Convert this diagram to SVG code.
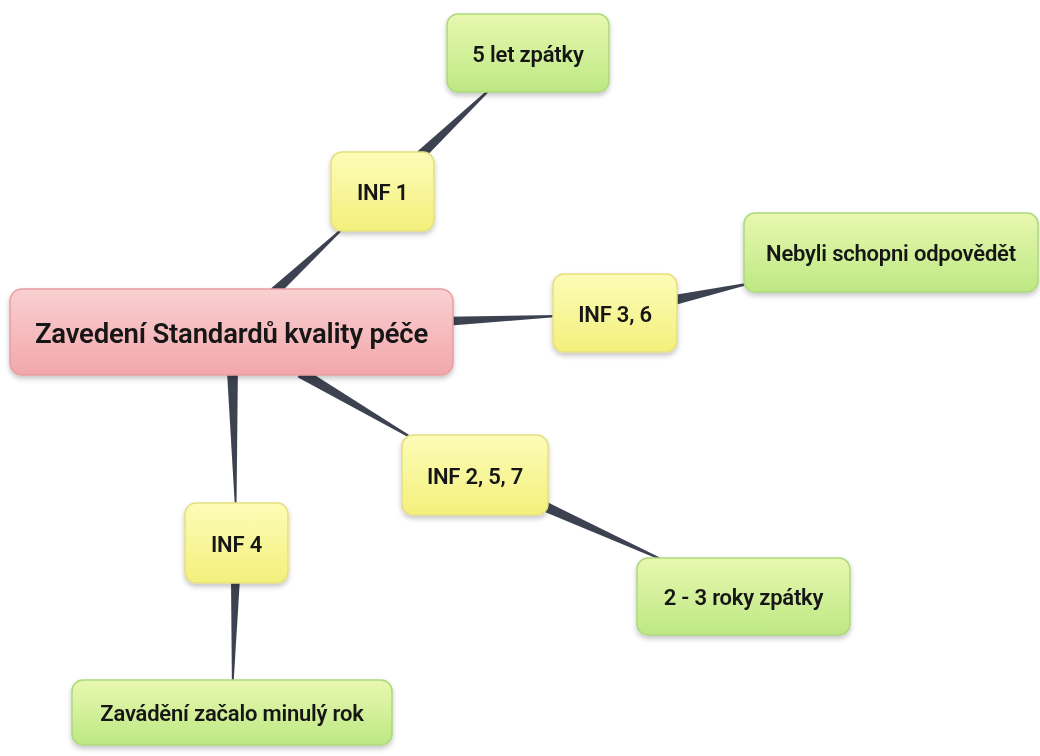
<svg xmlns="http://www.w3.org/2000/svg" width="1040" height="756" viewBox="0 0 1040 756">
<defs>
<linearGradient id="gPink" x1="0" y1="0" x2="0" y2="1"><stop offset="0" stop-color="#f9d0d1"/><stop offset="1" stop-color="#f2a7ab"/></linearGradient>
<linearGradient id="gYel" x1="0" y1="0" x2="0" y2="1"><stop offset="0" stop-color="#fcfcb8"/><stop offset="1" stop-color="#f4f07c"/></linearGradient>
<linearGradient id="gGrn" x1="0" y1="0" x2="0" y2="1"><stop offset="0" stop-color="#e8f8b0"/><stop offset="1" stop-color="#bde883"/></linearGradient>
<filter id="sh" x="-10%" y="-10%" width="120%" height="130%"><feDropShadow dx="0" dy="3" stdDeviation="2.5" flood-color="#000" flood-opacity="0.22"/></filter>
<style>
.pink{fill:url(#gPink);stroke:#e89da1;stroke-width:1.5}
.yel{fill:url(#gYel);stroke:#e3df80;stroke-width:1.5}
.grn{fill:url(#gGrn);stroke:#acd97c;stroke-width:1.5}
.box{filter:url(#sh)}
.t{font-family:Roboto,"Liberation Sans",sans-serif;font-weight:600;fill:#141414;text-anchor:middle;dominant-baseline:central;letter-spacing:-0.2px}
.s{font-size:22px}
.c{fill:#3c4250}
</style>
</defs>
<rect width="1040" height="756" fill="#ffffff"/>
<g id="connectors">
<polygon class="c" points="277.4,296.1 270.6,288.7 341.7,228.1 343.1,229.5"/>
<polygon class="c" points="423.8,159.0 417.0,151.8 489.2,88.5 490.6,89.9"/>
<polygon class="c" points="448.2,325.8 447.8,316.8 556.95,314.9 557.05,316.9"/>
<polygon class="c" points="673.2,305.4 671.0,295.6 747.7,282.8 748.1,284.8"/>
<polygon class="c" points="297.6,377.2 303.2,367.8 410.8,436.1 409.8,437.9"/>
<polygon class="c" points="541.3,510.5 545.5,501.3 662.4,558.7 661.6,560.5"/>
<polygon class="c" points="226.9,370.1 237.9,369.9 236.5,507 234.9,507"/>
<polygon class="c" points="231.0,578 240.0,578 233.5,684 231.9,684"/>
</g>
<g id="n-central" class="box"><rect class="pink" x="10" y="289" width="443" height="86" rx="12"/><text class="t" x="231.5" y="333" font-size="27.5">Zavedení Standardů kvality péče</text></g>
<g id="n-inf1" class="box"><rect class="yel" x="331" y="152" width="103" height="79" rx="11"/><text class="t s" x="382.5" y="192">INF 1</text></g>
<g id="n-5let" class="box"><rect class="grn" x="447" y="14" width="162" height="78" rx="11"/><text class="t s" x="528" y="54">5 let zpátky</text></g>
<g id="n-inf36" class="box"><rect class="yel" x="553" y="274" width="124" height="78" rx="11"/><text class="t s" x="615" y="314">INF 3, 6</text></g>
<g id="n-nebyli" class="box"><rect class="grn" x="744" y="213" width="294" height="79" rx="11"/><text class="t s" x="891" y="253">Nebyli schopni odpovědět</text></g>
<g id="n-inf257" class="box"><rect class="yel" x="402" y="435" width="146" height="80" rx="11"/><text class="t s" x="475" y="476">INF 2, 5, 7</text></g>
<g id="n-23roky" class="box"><rect class="grn" x="637" y="558" width="213" height="77" rx="11"/><text class="t s" x="743.5" y="597">2 - 3 roky zpátky</text></g>
<g id="n-inf4" class="box"><rect class="yel" x="185" y="503" width="103" height="80" rx="11"/><text class="t s" x="236.5" y="544">INF 4</text></g>
<g id="n-zavadeni" class="box"><rect class="grn" x="72" y="680" width="320" height="65" rx="11"/><text class="t s" x="232" y="713">Zavádění začalo minulý rok</text></g>
</svg>
